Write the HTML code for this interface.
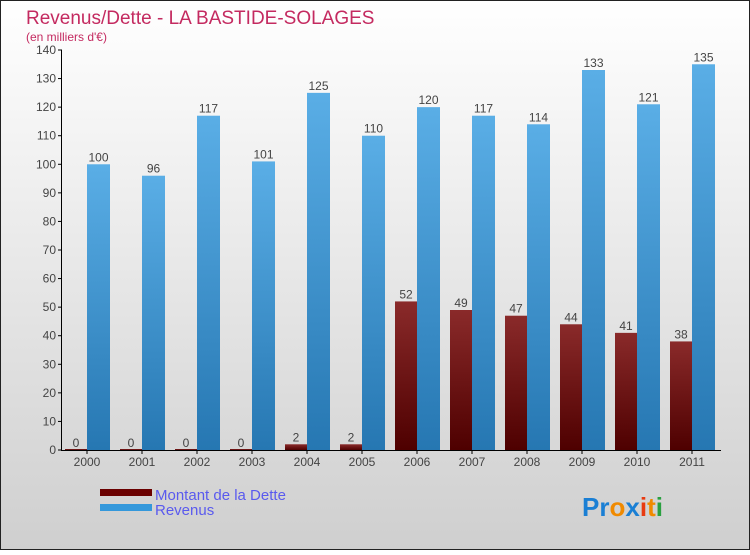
<!DOCTYPE html>
<html><head><meta charset="utf-8"><style>
body{margin:0}
#c{width:750px;height:550px;position:relative;font-family:"Liberation Sans",sans-serif}
</style></head><body>
<div id="c">
<svg width="750" height="550" id="svg" xmlns="http://www.w3.org/2000/svg">
<defs>
<linearGradient id="bg" x1="0" y1="0" x2="0" y2="1"><stop offset="0" stop-color="#ffffff"/><stop offset="1" stop-color="#cfcfcf"/></linearGradient>
<linearGradient id="rev" x1="0" y1="0" x2="0" y2="1"><stop offset="0" stop-color="#5aaee6"/><stop offset="1" stop-color="#2677b2"/></linearGradient>
<linearGradient id="debt" x1="0" y1="0" x2="0" y2="1"><stop offset="0" stop-color="#8a2a2a"/><stop offset="1" stop-color="#4e0000"/></linearGradient>
</defs>
<rect x="0.5" y="0.5" width="749" height="549" fill="url(#bg)" stroke="#222"/>
<text x="26" y="24" font-size="19" fill="#c42a60">Revenus/Dette - LA BASTIDE-SOLAGES</text>
<text x="26" y="41" font-size="12" fill="#c42a60">(en milliers d'€)</text>
<g id="plot"></g>
<rect x="100" y="489" width="52" height="7" fill="#6a0000"/>
<text x="155" y="500" font-size="15" fill="#5a5aee">Montant de la Dette</text>
<rect x="100" y="504" width="52" height="7" fill="#3498db"/>
<text x="155" y="515" font-size="15" fill="#5a5aee">Revenus</text>
<text x="582" y="516" font-size="26" font-weight="bold"><tspan fill="#1a7fd4">Pr</tspan><tspan fill="#f08a00">o</tspan><tspan fill="#1a7fd4">x</tspan><tspan fill="#e83a10">i</tspan><tspan fill="#f08a00">t</tspan><tspan fill="#2aa040">i</tspan></text>
</svg>
</div>
<script>
const years=["2000","2001","2002","2003","2004","2005","2006","2007","2008","2009","2010","2011"];
const debt=[0,0,0,0,2,2,52,49,47,44,41,38];
const revenus=[100,96,117,101,125,110,120,117,114,133,121,135];
const yTicks=[0,10,20,30,40,50,60,70,80,90,100,110,120,130,140];
const NS="http://www.w3.org/2000/svg";
const g=document.getElementById('plot');
const y=v=>450-v*400/140;
const xc=i=>87+i*55;
function mk(t,a,txt){const e=document.createElementNS(NS,t);for(const k in a)e.setAttribute(k,a[k]);if(txt!==undefined)e.textContent=txt;g.appendChild(e);return e;}
years.forEach((yr,i)=>{
 const c=xc(i);
 let h=Math.max(450-y(debt[i]),1);
 let r=mk('rect',{x:c-22,y:450-h,width:22,height:h,fill:'url(#debt)'});
 
 
 let t=mk('text',{x:c-11,y:y(debt[i])-3,'font-size':12,fill:'#444','text-anchor':'middle'},String(debt[i]));
 
 
 let r2=mk('rect',{x:c,y:y(revenus[i]),width:23,height:450-y(revenus[i]),fill:'url(#rev)'});
 
 
 let t2=mk('text',{x:c+11.5,y:y(revenus[i])-3,'font-size':12,fill:'#444','text-anchor':'middle'},String(revenus[i]));
 
 
 let xt=mk('text',{x:c,y:466,'font-size':12,fill:'#444','text-anchor':'middle'},yr);
 
 
 mk('line',{x1:c,y1:450,x2:c,y2:454,stroke:'#000'});
});
yTicks.forEach(v=>{
 mk('line',{x1:58,y1:y(v),x2:62,y2:y(v),stroke:'#000'});
 let t=mk('text',{x:56,y:y(v)+4,'font-size':12,fill:'#444','text-anchor':'end'},String(v));
 
 
});
let ax=mk('line',{x1:61.5,y1:50,x2:61.5,y2:450,stroke:'#000'});


let bx=mk('line',{x1:61,y1:450.5,x2:721,y2:450.5,stroke:'#000'});


</script>
</body></html>
